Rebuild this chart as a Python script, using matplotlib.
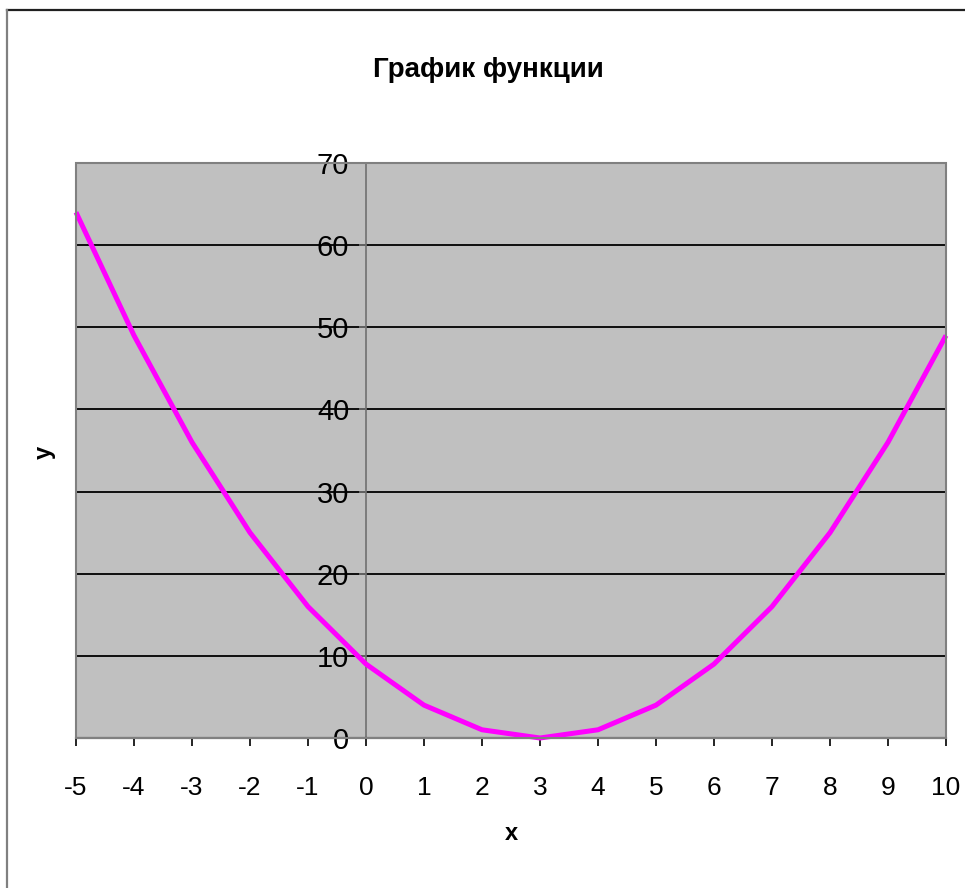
import matplotlib
matplotlib.use("Agg")
import matplotlib.pyplot as plt
from matplotlib.lines import Line2D
from matplotlib.patches import Rectangle
from matplotlib import font_manager

# Data: y = (x - 3)^2 tabulated on integer x
x_vals = [-5, -4, -3, -2, -1, 0, 1, 2, 3, 4, 5, 6, 7, 8, 9, 10]
y_vals = [64, 49, 36, 25, 16, 9, 4, 1, 0, 1, 4, 9, 16, 25, 36, 49]
y_ticks = [0, 10, 20, 30, 40, 50, 60, 70]
title_text = "График функции"
x_label = "x"
y_label = "y"

names = {f.name for f in font_manager.fontManager.ttflist}
family = "DejaVu Sans"
for cand in ("Liberation Sans Narrow", "Liberation Sans"):
    if cand in names:
        family = cand
        break
plt.rcParams["font.family"] = [family, "DejaVu Sans"]

fig = plt.figure(figsize=(9.65, 8.88), dpi=100)
ax = fig.add_axes([76 / 965, 150 / 888, 870 / 965, 575 / 888])
ax.set_facecolor("#C0C0C0")

ax.set_xlim(-5, 10)
ax.set_ylim(0, 70)

# horizontal gridlines
for v in y_ticks[1:-1]:
    ax.axhline(v, color="black", lw=1.3, zorder=1)

ax.plot(x_vals, y_vals, color="#FF00FF", lw=3.6, solid_joinstyle="round",
        solid_capstyle="butt", zorder=3, clip_on=False)

# spines: left spine sits at x = 0, bottom spine is the x axis
for s in ("top", "right"):
    ax.spines[s].set_visible(False)
ax.spines["left"].set_position(("data", 0))
ax.spines["left"].set_color("#707070")
ax.spines["left"].set_linewidth(1.2)
ax.spines["bottom"].set_color("black")
ax.spines["bottom"].set_linewidth(1.5)

# grey border of the plot area
ax.add_patch(Rectangle((0, 0), 1, 1, transform=ax.transAxes, fill=False,
                       edgecolor="#808080", lw=1.5, zorder=4, clip_on=False))

ax.set_xticks(x_vals)
ax.set_xticklabels([str(v) for v in x_vals])
ax.set_yticks(y_ticks)
ax.set_yticklabels([str(v) for v in y_ticks])
ax.tick_params(axis="x", direction="out", length=6, width=1.2, pad=21,
               labelsize=19, color="black")
ax.tick_params(axis="y", direction="out", length=5, width=1.2, pad=7,
               labelsize=21, color="#707070")

fig.text(488 / 965, 1 - 70 / 888, title_text, ha="center", va="center",
         fontsize=20, fontweight="bold")
fig.text(511 / 965, 1 - 833 / 888, x_label, ha="center", va="center",
         fontsize=17, fontweight="bold")
fig.text(44 / 965, 1 - 452 / 888, y_label, ha="center", va="center",
         fontsize=17, fontweight="bold", rotation=90)

# outer chart border (top and left edges)
fig.add_artist(Line2D([7 / 965, 1], [1 - 10 / 888, 1 - 10 / 888],
                      transform=fig.transFigure, color="#202020", lw=1.6))
fig.add_artist(Line2D([7 / 965, 7 / 965], [0, 1 - 10 / 888],
                      transform=fig.transFigure, color="#808080", lw=1.6))

fig.savefig("out.png", dpi=100)
